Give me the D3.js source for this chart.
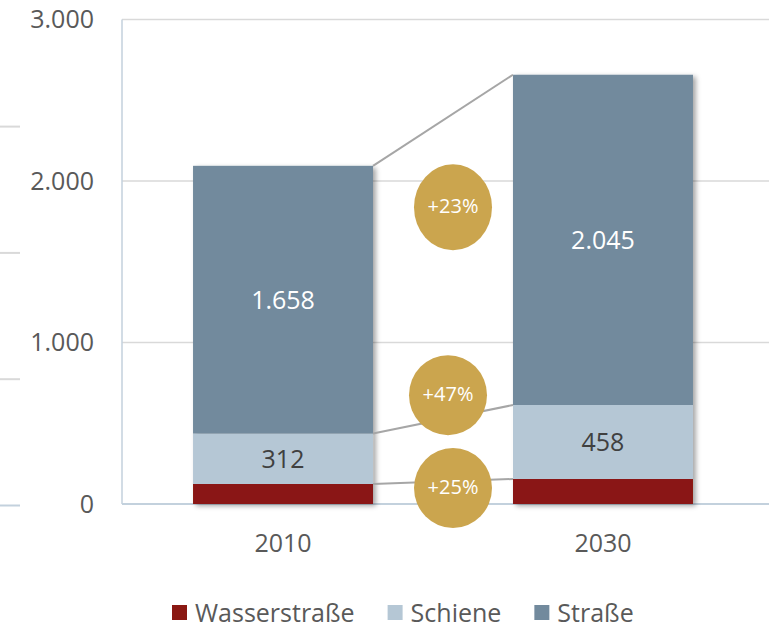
<!DOCTYPE html>
<html>
<head>
<meta charset="utf-8">
<script src="https://cdn.jsdelivr.net/npm/d3@7"></script>
<style>
  html, body { margin: 0; padding: 0; background: #fff; }
  svg { display: block; font-family: "Open Sans", sans-serif; }
</style>
</head>
<body>
<div id="chart"></div>
<script>
// data
const years = ["2010", "2030"]
const seriesNames = ["Wasserstraße", "Schiene", "Straße"]
const wasserstrasse = [124, 155]
const schiene = [312, 458]
const strasse = [1658, 2045]
const yTicks = [0, 1000, 2000, 3000]

const colors = {"Wasserstraße": "#8a1812", "Schiene": "#b5c7d5", "Straße": "#728a9d"}
const labelColors = {"Schiene": "#404040", "Straße": "#ffffff"}

const width = 769
const height = 629
const plot = {left: 122, right: 764, top: 19.5, bottom: 504}

const de = d3.formatLocale({decimal: ",", thousands: ".", grouping: [3], currency: ["", " €"]})
const fmt = de.format(",")

const rows = years.map((y, i) => ({
  year: y,
  "Wasserstraße": wasserstrasse[i],
  "Schiene": schiene[i],
  "Straße": strasse[i]
}))
const stacked = d3.stack().keys(seriesNames)(rows)

const x = d3.scaleBand().domain(years).range([plot.left, plot.right]).paddingInner(0.4375).paddingOuter(0.222)
const y = d3.scaleLinear().domain([0, 3000]).range([plot.bottom, plot.top])

const svg = d3.select("#chart").append("svg").attr("width", width).attr("height", height)

const defs = svg.append("defs")
defs.append("filter").attr("id", "shadow").attr("x", "-10%").attr("y", "-10%").attr("width", "130%").attr("height", "130%")
  .append("feDropShadow").attr("dx", 3).attr("dy", 2).attr("stdDeviation", 2.5)
  .attr("flood-color", "#000").attr("flood-opacity", 0.35)

// stray frame ticks at the left edge
const edge = d3.scaleLinear().domain([0, 4]).range([plot.bottom + 1.5, plot.bottom + 1.5 - 4 * 126.3])
svg.append("g").selectAll("line").data(d3.range(4)).join("line")
  .attr("x1", 0).attr("x2", 20)
  .attr("y1", (d) => edge(d)).attr("y2", (d) => edge(d))
  .attr("stroke", (d) => d === 0 ? "#c3d1dd" : "#d9d9d9").attr("stroke-width", 2)

// gridlines
svg.append("g").selectAll("line").data(yTicks.filter((d) => d > 0)).join("line")
  .attr("x1", plot.left).attr("x2", width)
  .attr("y1", (d) => y(d)).attr("y2", (d) => y(d))
  .attr("stroke", "#d9d9d9").attr("stroke-width", 1.5)

// axes lines
svg.append("line").attr("x1", plot.left).attr("x2", width).attr("y1", y(0)).attr("y2", y(0))
  .attr("stroke", "#c3d1dd").attr("stroke-width", 2)
svg.append("line").attr("x1", plot.left).attr("x2", plot.left).attr("y1", y(3000)).attr("y2", y(0))
  .attr("stroke", "#c3d1dd").attr("stroke-width", 1.5)

const yAxis = svg.append("g").attr("transform", `translate(${plot.left},0)`)
  .call(d3.axisLeft(y).tickValues(yTicks).tickSize(0).tickPadding(28).tickFormat(fmt))
yAxis.select(".domain").remove()
yAxis.selectAll("text").attr("fill", "#595959").style("font-size", "25px").style("font-family", "Open Sans")

const xAxis = svg.append("g").attr("transform", `translate(0,${plot.bottom})`)
  .call(d3.axisBottom(x).tickSize(0).tickPadding(30))
xAxis.select(".domain").remove()
xAxis.selectAll("text").attr("fill", "#595959").style("font-size", "25px").style("font-family", "Open Sans")

// bars
const barGroups = svg.append("g").selectAll("g").data(years).join("g").attr("filter", "url(#shadow)")
barGroups.each(function(year, i) {
  d3.select(this).selectAll("rect").data(stacked).join("rect")
    .attr("x", x(year))
    .attr("width", x.bandwidth())
    .attr("y", (s) => y(s[i][1]))
    .attr("height", (s) => y(s[i][0]) - y(s[i][1]))
    .attr("fill", (s) => colors[s.key])
})

// connector lines between the stacks
const [a, b] = years
svg.append("g").selectAll("line").data(stacked).join("line")
  .attr("x1", x(a) + x.bandwidth()).attr("x2", x(b))
  .attr("y1", (s) => y(s[0][1])).attr("y2", (s) => y(s[1][1]))
  .attr("stroke", "#a6a6a6").attr("stroke-width", 2)

// value labels
const labelled = stacked.filter((s) => labelColors[s.key])
labelled.forEach((s) => {
  svg.append("g").selectAll("text").data(s).join("text")
    .attr("x", (d, i) => x(years[i]) + x.bandwidth() / 2)
    .attr("y", (d) => (y(d[0]) + y(d[1])) / 2)
    .attr("dy", "0.36em")
    .attr("text-anchor", "middle")
    .attr("fill", labelColors[s.key])
    .style("font-size", "25px")
    .text((d) => fmt(d[1] - d[0]))
})

// growth bubbles (y given in data units, x offset from the gap centre)
const bubbleLayout = {"Straße": {v: 1837, dx: 10, ry: 43}, "Schiene": {v: 674, dx: 5, ry: 40}, "Wasserstraße": {v: 99, dx: 10, ry: 40}}
const gapMid = (x(a) + x.bandwidth() + x(b)) / 2
const bubbles = svg.append("g").selectAll("g").data(stacked).join("g")
  .attr("transform", (s) => `translate(${gapMid + bubbleLayout[s.key].dx},${y(bubbleLayout[s.key].v)})`)
bubbles.append("ellipse").attr("rx", 39).attr("ry", (s) => bubbleLayout[s.key].ry).attr("fill", "#cba54e")
bubbles.append("text")
  .attr("text-anchor", "middle").attr("dy", "0.3em")
  .attr("fill", "#fff").style("font-size", "20px")
  .text((s) => "+" + d3.format(".0f")(((s[1][1] - s[1][0]) / (s[0][1] - s[0][0]) - 1) * 100) + "%")

// legend
const legend = svg.append("g").attr("transform", "translate(172,605)")
let lx = 0
seriesNames.forEach((name) => {
  const item = legend.append("g").attr("transform", `translate(${lx},0)`)
  item.append("rect").attr("width", 15).attr("height", 15).attr("fill", colors[name])
  const t = item.append("text").attr("x", 23).attr("y", 17).attr("fill", "#595959")
    .style("font-size", "25px").text(name)
  lx += 23 + t.node().getComputedTextLength() + 33
})
</script>
</body>
</html>
